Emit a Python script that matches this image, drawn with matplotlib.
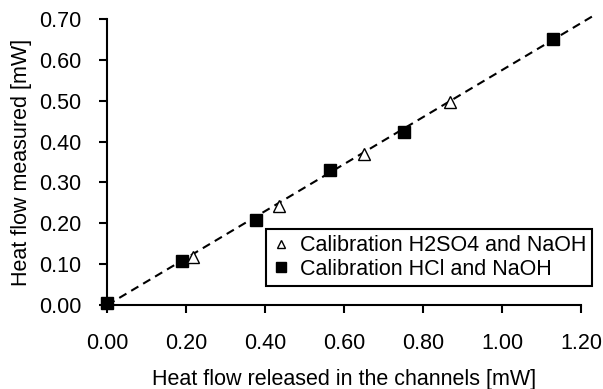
import matplotlib
matplotlib.use("Agg")
import matplotlib.pyplot as plt

# Data
h2so4_x = [0.217, 0.434, 0.651, 0.868]
h2so4_y = [0.118, 0.242, 0.370, 0.497]
hcl_x = [0.0, 0.188, 0.376, 0.564, 0.752, 1.128]
hcl_y = [0.004, 0.108, 0.208, 0.331, 0.424, 0.650]
trend_x = [0.0, 1.235]
trend_y = [0.0, 0.710]
x_ticks = [0.0, 0.2, 0.4, 0.6, 0.8, 1.0, 1.2]
y_ticks = [0.0, 0.1, 0.2, 0.3, 0.4, 0.5, 0.6, 0.7]

plt.rcParams['font.family'] = ['Liberation Sans', 'DejaVu Sans']
plt.rcParams['lines.scale_dashes'] = False

fig = plt.figure(figsize=(6.03, 3.89), dpi=100)
ax = fig.add_axes([0.178, 0.2159, 0.7855, 0.7353])

ax.plot(trend_x, trend_y, color='black', lw=1.5, dashes=(6, 4), clip_on=False, zorder=2)
ax.plot(hcl_x, hcl_y, linestyle='none', marker='s', ms=8.5, color='black',
        mec='black', label='Calibration HCl and NaOH', clip_on=False, zorder=3)
ax.plot(h2so4_x, h2so4_y, linestyle='none', marker='^', ms=8, mfc='white',
        mec='black', mew=1.0, label='Calibration H2SO4 and NaOH', clip_on=False, zorder=4)

ax.set_xlim(0, 1.2)
ax.set_ylim(0, 0.7)
ax.set_xticks(x_ticks)
ax.set_yticks(y_ticks)
ax.set_xticklabels([f"{v:.2f}" for v in x_ticks])
ax.set_yticklabels([f"{v:.2f}" for v in y_ticks])

for s in ['top', 'right']:
    ax.spines[s].set_visible(False)
for s in ['left', 'bottom']:
    ax.spines[s].set_linewidth(1.5)
ax.tick_params(axis='both', direction='out', length=5.5, width=1.5, labelsize=15.5)
ax.tick_params(axis='x', pad=15)
ax.tick_params(axis='y', pad=13)

ax.set_xlabel('Heat flow released in the channels [mW]', fontsize=15.5)
ax.set_ylabel('Heat flow measured [mW]', fontsize=15.5)
ax.xaxis.set_label_coords(0.5, -0.225)
ax.yaxis.set_label_coords(-0.159, 0.5)

handles, labels = ax.get_legend_handles_labels()
leg = ax.legend(handles[::-1], labels[::-1], loc='upper left', bbox_to_anchor=(0.335, 0.2647),
                fontsize=15.5, frameon=True, fancybox=False, framealpha=1, edgecolor='black',
                borderpad=0.28, labelspacing=0.12, handlelength=0.8, handletextpad=0.5,
                borderaxespad=0, markerscale=0.8)
leg.get_frame().set_linewidth(1.5)

fig.savefig('out.png', dpi=100)
